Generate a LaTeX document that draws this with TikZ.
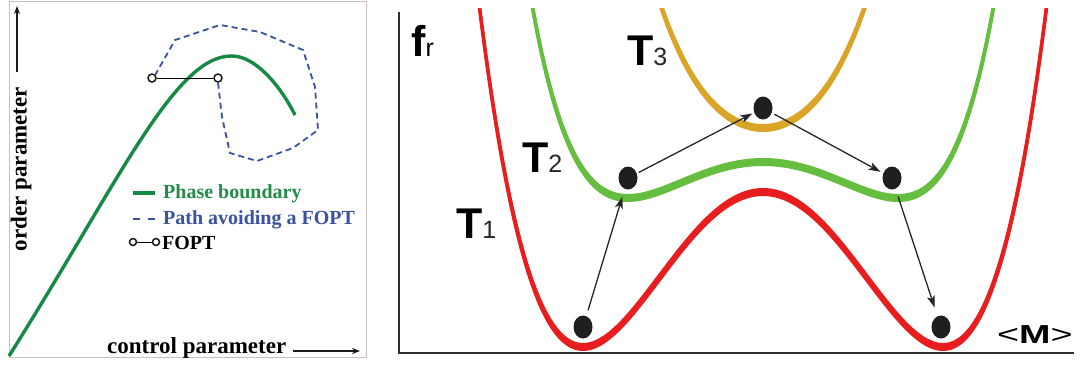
\documentclass[tikz,border=0pt]{standalone}
\usepackage{fontspec}
\setmainfont{Liberation Serif}
\newfontfamily\arialf{Liberation Sans}
\usetikzlibrary{arrows.meta,shapes.geometric}
\definecolor{lgreen}{RGB}{22,138,68}
\definecolor{lgtext}{RGB}{34,140,72}
\definecolor{lblue}{RGB}{58,82,160}
\definecolor{cred}{RGB}{232,30,30}
\definecolor{cgreen}{RGB}{102,190,64}
\definecolor{corange}{RGB}{218,165,38}
\definecolor{boxgray}{RGB}{205,190,190}
\definecolor{axisgray}{RGB}{45,45,45}
\begin{document}
\begin{tikzpicture}[x=1pt,y=-1pt,
  lbl/.style={inner sep=0pt, anchor=base west},
  axtext/.style={inner sep=0pt, font=\bfseries\fontsize{23}{23}\selectfont},
  legtext/.style={lbl, font=\bfseries\fontsize{20}{20}\selectfont},
  axarrow/.style={line width=1.4pt, black!90, -{Stealth[length=8pt,width=6pt]}},
  boundary/.style={lgreen, line width=3.4pt},
  avoid/.style={lblue, line width=1.8pt, dash pattern=on 6pt off 4pt},
  fopt/.style={circle, draw=black!90, line width=1.5pt, minimum size=8pt, inner sep=0pt, fill=white},
  potential/.style={line width=3pt},
  dot/.style={ellipse, fill=black!88, minimum width=19pt, minimum height=23pt, inner sep=0pt},
  jump/.style={line width=1.3pt, black!85, -{Stealth[length=12pt,width=8pt,inset=3pt]}},
  Tlabel/.style={lbl, font=\arialf\bfseries\fontsize{43}{43}\selectfont},
]
\useasboundingbox (0,0) rectangle (1083,365);
\fill[white] (0,0) rectangle (1083,365);

% ---------------- left panel ----------------
\draw[boxgray, line width=0.8pt] (9,1) rectangle (366,357);
\draw[boundary] (9,356) .. controls (120,180) and (175,55) .. (232,56)
                .. controls (255,56) and (280,85) .. (295,115);
\node[fopt] (c1) at (152,78) {};
\node[fopt] (c2) at (218,78) {};
\draw[line width=1pt] (c1) -- (c2);
\draw[avoid] (c2.south) -- (222,117) -- (230,153) -- (257,161) -- (293,148)
   -- (318,130) -- (315,87) -- (303,50) -- (260,32) -- (220,25) -- (175,40) -- (c1.north east);

\node[axtext, rotate=90] (op) at (21,169) {order parameter};
\coordinate (opa) at (17,72);
\coordinate (opb) at (17,6);
\draw[axarrow] (opa) -- (opb);
\node[axtext, anchor=base west] (cp) at (107,353) {control parameter};
\coordinate (cpa) at (293,351);
\coordinate (cpb) at (360,351);
\draw[axarrow] (cpa) -- (cpb);

% legend
\draw[boundary] (133,193) -- (155,193);
\node[legtext, text=lgtext] (l1) at (163,198) {Phase boundary};
\draw[lblue, line width=1.8pt] (133,219) -- (140,219) (148,219) -- (155,219);
\node[legtext, text=lblue] (l2) at (163,224) {Path avoiding a FOPT};
\node[fopt, minimum size=7pt] (lc1) at (133,242) {};
\node[fopt, minimum size=7pt] (lc2) at (156,242) {};
\draw[line width=1pt] (lc1) -- (lc2);
\node[legtext] (l3) at (162,249) {FOPT};

% ---------------- right panel ----------------
\begin{scope}
\clip (396,8) rectangle (1083,362);
\foreach \s in {-2.5,0,2.5}{
  \draw[potential, cred, yshift=\s pt] plot[domain=478:1048, samples=160]
     (\x, {347 - 155*(((\x-763)/180)^2-1)^2});
  \draw[potential, cgreen, yshift=\s pt] plot[domain=530:996, samples=140]
     (\x, {198 - (((\x-763)/135)^2-1)^2*(36+5.5*((\x-763)/135)^2)});
  \draw[potential, corange, yshift=\s pt] plot[domain=660:866, samples=100]
     (\x, {128 - 93.4*((\x-763)/101)^2 - 25.6*((\x-763)/101)^4});
}
\end{scope}

\coordinate (ax0) at (399,353);
\coordinate (axy) at (399,12);
\coordinate (axx) at (1074,353);
\draw[axisgray, line width=2pt] (axy) -- (ax0) -- (axx);

\node[dot] (d1) at (583,327) {};
\node[dot] (d2) at (628,178) {};
\node[dot] (d3) at (763,108) {};
\node[dot] (d4) at (892,178) {};
\node[dot] (d5) at (941,327) {};

\draw[jump, shorten <=6pt, shorten >=8pt] (d1) -- (d2);
\draw[jump, shorten <=2pt, shorten >=2pt] (d2) -- (d3);
\draw[jump, shorten <=3pt, shorten >=3pt] (d3) -- (d4);
\draw[jump, shorten <=8pt, shorten >=9pt] (d4) -- (d5);

\node[lbl] (fr) at (411,56) {\arialf{\bfseries\fontsize{43}{43}\selectfont f}{\fontsize{25}{25}\selectfont r}};
\node[Tlabel] (t1) at (456,238) {T{\mdseries\fontsize{25}{25}\selectfont\color{black!85}1}};
\node[Tlabel] (t2) at (522,172) {T{\mdseries\fontsize{25}{25}\selectfont\color{black!85}2}};
\node[Tlabel] (t3) at (627,65) {T{\mdseries\fontsize{25}{25}\selectfont\color{black!85}3}};
\node[lbl] (mm) at (997,343) {\arialf\fontsize{26}{26}\selectfont\scalebox{1.45}[1]{<\textbf{M}>}};
\end{tikzpicture}
\end{document}
